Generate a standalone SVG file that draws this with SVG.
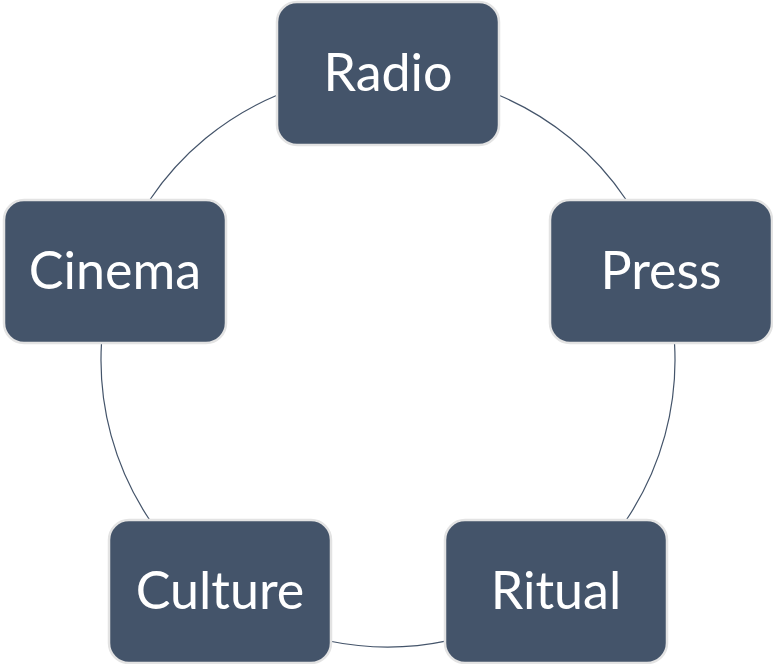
<svg xmlns="http://www.w3.org/2000/svg" width="773" height="664" viewBox="0 0 773 664">
<style>
.box{fill:#44546A;stroke:#E3E3E3;stroke-width:2.5}
.lbl{fill:#FFFFFF;font-family:Lato,"Open Sans","Liberation Sans",sans-serif;font-size:52px;text-anchor:middle}
.arc{fill:none;stroke:#44546A;stroke-width:1.2}
</style>
<rect width="773" height="664" fill="#FFFFFF"/>
<g id="connectors">
<path class="arc" d="M499,95.3 A287,287 0 0 1 626.3,200"/>
<path class="arc" d="M674.5,343 A287,287 0 0 1 626.3,520"/>
<path class="arc" d="M447,640.9 A287,287 0 0 1 329,641"/>
<path class="arc" d="M149.7,520 A287,287 0 0 1 101.5,343"/>
<path class="arc" d="M149.7,200 A287,287 0 0 1 277,95.3"/>
</g>
<g id="radio"><rect class="box" x="277" y="2" width="222" height="143" rx="20"/><text class="lbl" x="388" y="91">Radio</text></g>
<g id="press"><rect class="box" x="550" y="200" width="222" height="143" rx="20"/><text class="lbl" x="661" y="289">Press</text></g>
<g id="ritual"><rect class="box" x="445" y="520" width="222" height="143" rx="20"/><text class="lbl" x="556" y="609">Ritual</text></g>
<g id="culture"><rect class="box" x="109" y="520" width="222" height="143" rx="20"/><text class="lbl" x="220" y="609">Culture</text></g>
<g id="cinema"><rect class="box" x="4" y="200" width="222" height="143" rx="20"/><text class="lbl" x="115" y="289">Cinema</text></g>
</svg>
